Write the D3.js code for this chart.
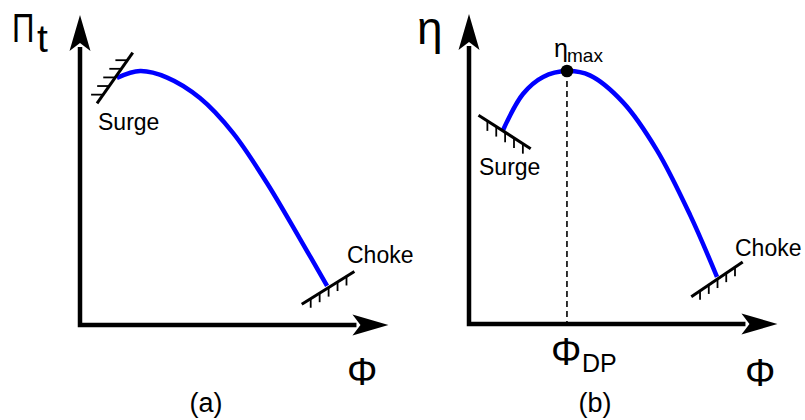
<!DOCTYPE html>
<html>
<head>
<meta charset="utf-8">
<script src="https://cdn.jsdelivr.net/npm/d3@7"></script>
<style>
  html, body { margin: 0; padding: 0; background: #fff; }
  svg { display: block; }
  text { font-family: "Liberation Sans", Arial, Helvetica, sans-serif; fill: #000; }
</style>
</head>
<body>
<svg id="chart" width="805" height="420"></svg>
<script>
// Compressor characteristic: pressure ratio (a) and efficiency (b) vs. flow coefficient
const phiA = [0.119, 0.194, 0.281, 0.387, 0.494, 0.603, 0.710, 0.797];
const piA  = [0.797, 0.819, 0.798, 0.732, 0.619, 0.458, 0.277, 0.126];

const phiB = [0.110, 0.174, 0.239, 0.316, 0.390, 0.497, 0.606, 0.713, 0.800];
const etaB = [0.626, 0.742, 0.797, 0.816, 0.802, 0.715, 0.561, 0.352, 0.152];

const phiDP = 0.316;
const etaMax = 0.816;

const panelLabels = ["(a)", "(b)"];
const limitLabels = ["Surge", "Choke"];

const svg = d3.select("#chart");

const xA = d3.scaleLinear().domain([0, 1]).range([80, 390]);
const yA = d3.scaleLinear().domain([0, 1]).range([325, 15]);
const xB = d3.scaleLinear().domain([0, 1]).range([469, 779]);
const yB = d3.scaleLinear().domain([0, 1]).range([324, 14]);

// Axis frame with stealth arrowheads
function axes(g, x, y, xEnd, yEnd) {
  const x0 = x(0), y0 = y(0), xt = x(xEnd), yt = y(yEnd);
  const L = 36, W = 10.5, N = 8;
  g.append("path")
    .attr("d", `M${x0},${yt + L - 4}L${x0},${y0}L${xt - L + 4},${y0}`)
    .attr("fill", "none").attr("stroke", "#000").attr("stroke-width", 4.5)
    .attr("stroke-linejoin", "miter");
  g.append("path")
    .attr("d", `M${x0},${yt}L${x0 - W},${yt + L}L${x0},${yt + L - N}L${x0 + W},${yt + L}Z`)
    .attr("fill", "#000");
  g.append("path")
    .attr("d", `M${xt},${y0}L${xt - L},${y0 - W}L${xt - L + N},${y0}L${xt - L},${y0 + W}Z`)
    .attr("fill", "#000");
}

// Limit marker: slanted line with short hatches on one side
function limit(g, cx, cy, angleDeg, hatchDir, hatchLen) {
  const len = 62, a = angleDeg * Math.PI / 180;
  const ux = Math.cos(a), uy = Math.sin(a);
  const p0 = [cx - ux * len / 2, cy - uy * len / 2];
  g.append("line")
    .attr("x1", p0[0]).attr("y1", p0[1])
    .attr("x2", cx + ux * len / 2).attr("y2", cy + uy * len / 2)
    .attr("stroke", "#000").attr("stroke-width", 3);
  const ts = [0.17, 0.34, 0.51, 0.68, 0.85];
  ts.forEach(t => {
    const px = p0[0] + ux * len * t, py = p0[1] + uy * len * t;
    g.append("line")
      .attr("x1", px).attr("y1", py)
      .attr("x2", px + hatchDir[0] * hatchLen).attr("y2", py + hatchDir[1] * hatchLen)
      .attr("stroke", "#000").attr("stroke-width", 1.8);
  });
}

const line = d3.line().curve(d3.curveCatmullRom.alpha(0.5));

// ---- Panel (a) ----
const gA = svg.append("g");
axes(gA, xA, yA, 0.995, 1.0);
gA.append("path")
  .attr("d", line(phiA.map((p, i) => [xA(p), yA(piA[i])])))
  .attr("fill", "none").attr("stroke", "#0000ff").attr("stroke-width", 4.5);
limit(gA, xA(phiA[0]) - 2, yA(piA[0]), -54.8, [-1, 0], 12);
limit(gA, xA(phiA[phiA.length - 1]) + 1, yA(piA[piA.length - 1]) + 2, -31.9, [0, 1], 9);

gA.append("text").attr("x", 98).attr("y", 130).attr("font-size", 23).text(limitLabels[0]);
gA.append("text").attr("x", 347).attr("y", 263).attr("font-size", 23).text(limitLabels[1]);

gA.append("text").attr("font-size", 41)
  .attr("transform", "translate(12,42) scale(0.76,1)").text("Π");
gA.append("text").attr("x", 37).attr("y", 52).attr("font-size", 39).text("t");
gA.append("text").attr("x", 347).attr("y", 385).attr("font-size", 38).text("Φ");
gA.append("text").attr("x", 206).attr("y", 412).attr("font-size", 27)
  .attr("text-anchor", "middle").text(panelLabels[0]);

// ---- Panel (b) ----
const gB = svg.append("g");
axes(gB, xB, yB, 0.995, 1.0);
gB.append("line")
  .attr("x1", xB(phiDP)).attr("y1", yB(etaMax))
  .attr("x2", xB(phiDP)).attr("y2", yB(0))
  .attr("stroke", "#000").attr("stroke-width", 1.6).attr("stroke-dasharray", "6,4");
gB.append("path")
  .attr("d", line(phiB.map((p, i) => [xB(p), yB(etaB[i])])))
  .attr("fill", "none").attr("stroke", "#0000ff").attr("stroke-width", 4.5);
gB.append("circle")
  .attr("cx", xB(phiDP)).attr("cy", yB(etaMax)).attr("r", 6.3).attr("fill", "#000");
limit(gB, xB(phiB[0]) + 1.5, yB(etaB[0]) + 2, 32.7, [0, 1], 10);
limit(gB, xB(phiB[phiB.length - 1]), yB(etaB[etaB.length - 1]) + 2.5, -34, [0, 1], 9);

gB.append("text").attr("x", 479).attr("y", 175).attr("font-size", 23).text(limitLabels[0]);
gB.append("text").attr("x", 735).attr("y", 256).attr("font-size", 23).text(limitLabels[1]);

gB.append("text").attr("x", 417).attr("y", 44).attr("font-size", 46).text("η");
gB.append("text").attr("x", 554).attr("y", 57).attr("font-size", 25).text("η");
gB.append("text").attr("x", 567).attr("y", 62).attr("font-size", 19).text("max");
gB.append("text").attr("x", 551).attr("y", 365).attr("font-size", 38).text("Φ");
gB.append("text").attr("x", 582).attr("y", 372).attr("font-size", 25).text("DP");
gB.append("text").attr("x", 745).attr("y", 386).attr("font-size", 38).text("Φ");
gB.append("text").attr("x", 595).attr("y", 412).attr("font-size", 27)
  .attr("text-anchor", "middle").text(panelLabels[1]);
</script>
</body>
</html>
